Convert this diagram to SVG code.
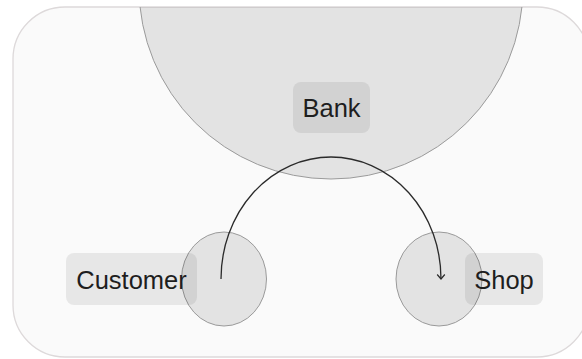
<svg xmlns="http://www.w3.org/2000/svg" width="582" height="359" viewBox="0 0 582 359">
  <defs>
    <style>
      .frame { fill: #fafafa; stroke: #ddd9da; stroke-width: 1.3; }
      .blob { fill: rgba(0,0,0,0.09); stroke: #9a9a9a; stroke-width: 1; }
      .box { fill: rgba(0,0,0,0.075); }
      .lbl { font-family: "Liberation Sans", Arial, sans-serif; font-size: 25.5px; fill: #1e1e1e; text-anchor: middle; }
      .edge { fill: none; stroke: #2a2a2a; stroke-width: 1.3; }
    </style>
    <clipPath id="frameClip">
      <rect x="13" y="7" width="576" height="350" rx="52" ry="52"/>
    </clipPath>
    <marker id="chev" viewBox="-6 -5 8 10" markerWidth="8" markerHeight="10" refX="0" refY="0" orient="auto" markerUnits="userSpaceOnUse">
      <path d="M-4.5,-3.8 L0,0 L-4.5,3.8" fill="none" stroke="#2a2a2a" stroke-width="1.2"/>
    </marker>
  </defs>

  <rect class="frame" x="13" y="7" width="576" height="350" rx="52" ry="52"/>

  <g id="bank">
    <circle class="blob" cx="331" cy="-13" r="192" clip-path="url(#frameClip)"/>
    <rect class="box" x="293" y="82" width="77" height="51" rx="8"/>
    <text class="lbl" x="331.5" y="117">Bank</text>
  </g>

  <g id="customer">
    <ellipse class="blob" cx="224" cy="279" rx="42.5" ry="47"/>
    <rect class="box" x="66" y="253" width="131" height="52" rx="8"/>
    <text class="lbl" x="131.5" y="289">Customer</text>
  </g>

  <g id="shop">
    <ellipse class="blob" cx="439" cy="279" rx="43" ry="47"/>
    <rect class="box" x="465" y="253" width="78" height="52" rx="8"/>
    <text class="lbl" x="504" y="289">Shop</text>
  </g>

  <g id="connectors">
    <path class="edge" d="M221,279 A110,122 0 0 1 441,279" marker-end="url(#chev)"/>
  </g>
</svg>
